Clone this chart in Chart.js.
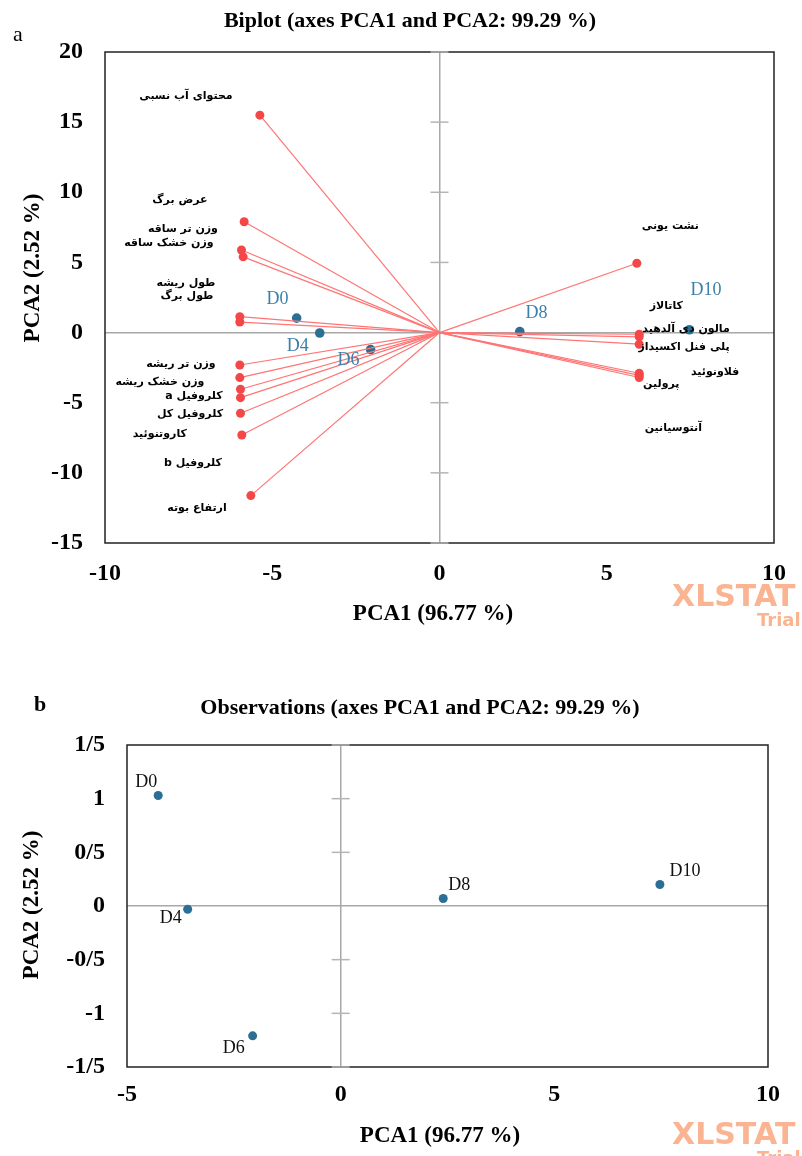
<!DOCTYPE html>
<html>
<head>
<meta charset="utf-8">
<script src="https://cdn.jsdelivr.net/npm/chart.js@4.4.1/dist/chart.umd.min.js"></script>
<style>
  body { margin: 0; background: #fff; }
  #wrap { position: relative; width: 802px; height: 1156px; overflow: hidden; }
  canvas { position: absolute; left: 0; }
</style>
</head>
<body>
<div id="wrap">
  <canvas id="biplot" width="802" height="650" style="top:0"></canvas>
  <canvas id="obs" width="802" height="506" style="top:650px"></canvas>
</div>
<script>
// variables (red vectors), PCA1 / PCA2 coordinates
const varNames = ['محتوای آب نسبی', 'عرض برگ', 'وزن تر ساقه', 'وزن خشک ساقه', 'طول ریشه', 'طول برگ',
  'وزن تر ریشه', 'وزن خشک ریشه', 'کلروفیل a', 'کلروفیل کل', 'کاروتنوئید', 'کلروفیل b', 'ارتفاع بوته',
  'نشت یونی', 'کاتالاز', 'مالون دی آلدهید', 'پلی فنل اکسیداز', 'فلاونوئید', 'پرولین', 'آنتوسیانین'];
const varX = [-5.37, -5.84, -5.92, -5.87, -5.97, -5.97, -5.97, -5.97, -5.95, -5.95, -5.95, -5.91, -5.64,
  5.9, 5.97, 5.97, 5.97, 5.97, 5.97, 5.97];
const varY = [15.5, 7.9, 5.89, 5.4, 1.13, 0.75, -2.31, -3.21, -4.04, -4.64, -5.75, -7.3, -11.62,
  4.94, -0.12, -0.3, -0.83, -2.9, -3.2, -3.05];
// where XLSTAT put each variable label (data units)
const varLabelX = [-7.58, -7.76, -7.67, -8.09, -7.58, -7.55, -7.73, -8.36, -7.34, -7.46, -8.36, -7.37, -7.25,
  6.9, 6.78, 7.37, 7.31, 8.24, 6.63, 6.99];
const varLabelY = [16.86, 9.45, 7.38, 6.38, 3.54, 2.61, -2.25, -3.5, -4.5, -5.8, -7.23, -9.3, -12.5,
  7.6, 1.9, 0.26, -1.03, -2.8, -3.68, -6.8];

// observations
const obsNames = ['D0', 'D4', 'D6', 'D8', 'D10'];
const obsX = [-4.27, -3.58, -2.06, 2.4, 7.47];
const obsY = [1.03, -0.03, -1.21, 0.07, 0.2];
const obsLabelX = [-4.84, -4.24, -2.72, 2.9, 7.97];   // biplot label spots
const obsLabelY = [2.4, -0.95, -2.0, 1.4, 3.04];

// axis ranges
const biX = [-10, 10], biY = [-15, 20];
const obX = [-5, 10], obY = [-1.5, 1.5];

const SERIF = '"Liberation Serif", "Times New Roman", serif';
const RED = '#ff7575', RED_PT = '#f44747', BLUE = '#2c6f95';

function fa(v) { return String(v).replace('.', '/'); }

// frame, zero lines ticks, free text
function decor(opts) {
  return {
    id: 'decor',
    afterDatasetsDraw(chart) {
      const { ctx, chartArea: a, scales: { x, y } } = chart;
      ctx.save();
      ctx.strokeStyle = '#222';
      ctx.lineWidth = 1.5;
      ctx.strokeRect(a.left, a.top, a.right - a.left, a.bottom - a.top);
      // small ticks across the vertical zero line
      const x0 = x.getPixelForValue(0);
      ctx.strokeStyle = '#b5b5b5';
      ctx.lineWidth = 1.5;
      y.ticks.forEach(t => {
        if (t.value === 0) return;
        const py = y.getPixelForValue(t.value);
        ctx.beginPath(); ctx.moveTo(x0 - 9, py); ctx.lineTo(x0 + 9, py); ctx.stroke();
      });
      ctx.restore();
      if (opts.labels) opts.labels(chart);
    },
    afterDraw(chart) {
      const ctx = chart.ctx;
      ctx.save();
      ctx.fillStyle = '#000';
      ctx.textAlign = 'center';
      ctx.textBaseline = 'middle';
      ctx.font = 'bold 22px ' + SERIF;
      ctx.fillText(opts.title, opts.titleX, opts.titleY);
      ctx.font = opts.letterFont;
      ctx.fillText(opts.letter, opts.letterX, opts.letterY);
      ctx.font = 'bold 23px ' + SERIF;
      ctx.fillText('PCA1 (96.77 %)', opts.xtX, opts.xtY);
      ctx.save();
      ctx.translate(opts.ytX, opts.ytY);
      ctx.rotate(-Math.PI / 2);
      ctx.fillText('PCA2 (2.52 %)', 0, 0);
      ctx.restore();
      // trial watermark
      ctx.fillStyle = '#fab491';
      ctx.textAlign = 'left';
      ctx.font = 'bold 30px "DejaVu Sans", sans-serif';
      ctx.fillText('XLSTAT', 672, opts.wmY);
      ctx.font = 'bold 18px "DejaVu Sans", sans-serif';
      ctx.fillText('Trial', 757, opts.wmY + 23);
      ctx.restore();
    }
  };
}

function axes(xr, yr, yStep, yFmt, yW, xH, pad) {
  const zeroGrid = c => c.tick.value === 0 ? '#a8a8a8' : 'rgba(0,0,0,0)';
  return {
    x: {
      type: 'linear', min: xr[0], max: xr[1],
      ticks: { stepSize: 5, color: '#000', padding: pad, font: { family: SERIF, size: 24, weight: 'bold' } },
      grid: { color: zeroGrid, lineWidth: 1.5, drawTicks: false },
      border: { display: false },
      afterFit: s => { s.height = xH; }
    },
    y: {
      type: 'linear', min: yr[0], max: yr[1],
      ticks: { stepSize: yStep, color: '#000', padding: 22, callback: yFmt,
        font: { family: SERIF, size: 24, weight: 'bold' } },
      grid: { color: zeroGrid, lineWidth: 1.5, drawTicks: false },
      border: { display: false },
      afterFit: s => { s.width = yW; }
    }
  };
}

// ---------- a : biplot ----------
const vecSets = varNames.map((n, i) => ({
  label: n,
  data: [{ x: 0, y: 0 }, { x: varX[i], y: varY[i] }],
  showLine: true,
  borderColor: RED,
  borderWidth: 1.2,
  pointRadius: c => c.dataIndex === 0 ? 0 : 4.5,
  pointBackgroundColor: RED_PT,
  pointBorderWidth: 0
}));
const obsSet = {
  label: 'obs',
  data: obsX.map((v, i) => ({ x: v, y: obsY[i] })),
  pointRadius: 4.8,
  pointBackgroundColor: BLUE,
  pointBorderWidth: 0
};

new Chart(document.getElementById('biplot'), {
  type: 'scatter',
  data: { datasets: [...vecSets, obsSet] },
  options: {
    responsive: false, animation: false, devicePixelRatio: 1,
    layout: { padding: { top: 52, right: 27, left: 0, bottom: 0 } },
    plugins: { legend: { display: false }, tooltip: { enabled: false } },
    scales: axes(biX, biY, 5, v => v, 105, 107, 16)
  },
  plugins: [decor({
    title: 'Biplot (axes PCA1 and PCA2: 99.29 %)', titleX: 410, titleY: 21,
    letter: 'a', letterX: 18, letterY: 35, letterFont: '22px ' + SERIF,
    xtX: 433, xtY: 614, ytX: 33, ytY: 268, wmY: 598,
    labels(chart) {
      const { ctx, scales: { x, y } } = chart;
      ctx.save();
      ctx.fillStyle = '#000';
      ctx.textAlign = 'center';
      ctx.textBaseline = 'middle';
      ctx.direction = 'rtl';
      ctx.font = 'bold 11px "DejaVu Sans", sans-serif';
      varNames.forEach((n, i) => {
        ctx.fillText(n, x.getPixelForValue(varLabelX[i]), y.getPixelForValue(varLabelY[i]));
      });
      ctx.direction = 'ltr';
      ctx.fillStyle = '#3a80a8';
      ctx.font = '18px ' + SERIF;
      obsNames.forEach((n, i) => {
        ctx.fillText(n, x.getPixelForValue(obsLabelX[i]), y.getPixelForValue(obsLabelY[i]));
      });
      ctx.restore();
    }
  })]
});

// ---------- b : observations ----------
new Chart(document.getElementById('obs'), {
  type: 'scatter',
  data: { datasets: [{
    label: 'obs',
    data: obsX.map((v, i) => ({ x: v, y: obsY[i] })),
    pointRadius: 4.5,
    pointBackgroundColor: BLUE,
    pointBorderWidth: 0
  }] },
  options: {
    responsive: false, animation: false, devicePixelRatio: 1,
    layout: { padding: { top: 95, right: 34, left: 0, bottom: 0 } },
    plugins: { legend: { display: false }, tooltip: { enabled: false } },
    scales: axes(obX, obY, 0.5, fa, 127, 89, 13)
  },
  plugins: [decor({
    title: 'Observations (axes PCA1 and PCA2: 99.29 %)', titleX: 420, titleY: 58,
    letter: 'b', letterX: 40, letterY: 55, letterFont: 'bold 22px ' + SERIF,
    xtX: 440, xtY: 486, ytX: 32, ytY: 255, wmY: 486,
    labels(chart) {
      const { ctx, scales: { x, y } } = chart;
      // label offsets in px, as placed by XLSTAT
      const dx = [-12, -17, -19, 16, 25], dy = [-13, 9, 12, -13, -13];
      ctx.save();
      ctx.fillStyle = '#111';
      ctx.textAlign = 'center';
      ctx.textBaseline = 'middle';
      ctx.font = '18px ' + SERIF;
      obsNames.forEach((n, i) => {
        ctx.fillText(n, x.getPixelForValue(obsX[i]) + dx[i], y.getPixelForValue(obsY[i]) + dy[i]);
      });
      ctx.restore();
    }
  })]
});
</script>
</body>
</html>
